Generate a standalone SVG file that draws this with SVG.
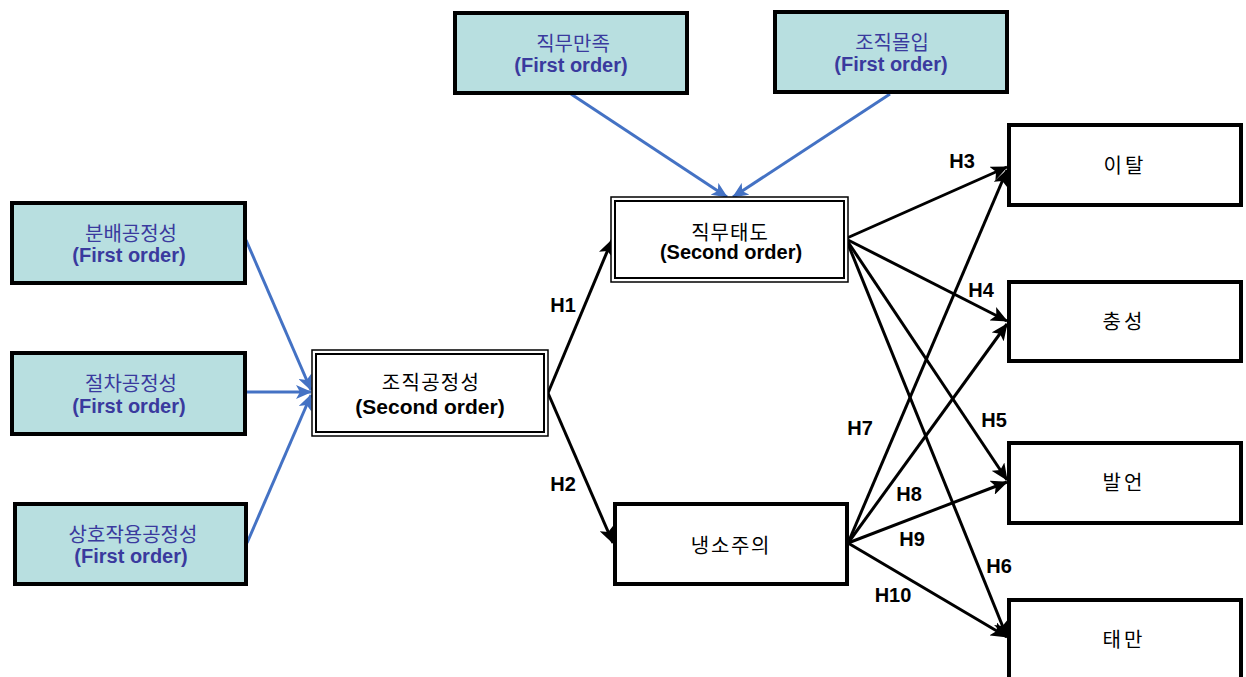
<svg xmlns="http://www.w3.org/2000/svg" width="1246" height="677" viewBox="0 0 1246 677">
<defs>
<style>
.fo rect{fill:#b8dfe0;stroke:#000;stroke-width:4}
text{text-anchor:middle}
.fo text{fill:#3a3a9e}
.ko{font-size:20px;font-family:"Noto Sans CJK KR","Liberation Sans",sans-serif}
.en{font-size:20px;font-weight:bold;font-family:"Liberation Sans",sans-serif}
.so .outer{fill:#fff;stroke:#000;stroke-width:1.5}
.so .inner{fill:none;stroke:#000;stroke-width:2}
.so text,.pl text{fill:#000}
.pl rect{fill:#fff;stroke:#000;stroke-width:4}
.blue{stroke:#4472c4;stroke-width:3;fill:none;marker-end:url(#ab)}
.blk{stroke:#000;stroke-width:3;fill:none;marker-end:url(#ak)}
.lbl{font-family:"Liberation Sans",sans-serif;font-weight:bold;font-size:20px;fill:#000}
</style>
<marker id="ab" markerUnits="userSpaceOnUse" markerWidth="16" markerHeight="14" refX="15" refY="7" orient="auto"><path d="M0,0 L16,7 L0,14 L4,7 z" fill="#4472c4"/></marker>
<marker id="ak" markerUnits="userSpaceOnUse" markerWidth="17" markerHeight="15" refX="16" refY="7.5" orient="auto"><path d="M0,0 L17,7.5 L0,15 L4,7.5 z" fill="#000"/></marker>
</defs>
<rect width="1246" height="677" fill="#fff"/>
<g id="connectors">
<line class="blue" x1="246" y1="240" x2="311" y2="390"/>
<line class="blue" x1="246" y1="392" x2="311" y2="392"/>
<line class="blue" x1="247" y1="543" x2="311" y2="395"/>
<line class="blue" x1="571" y1="94" x2="727" y2="197"/>
<line class="blue" x1="890" y1="94" x2="733" y2="197"/>
<line class="blk" x1="548" y1="393" x2="612" y2="240"/>
<line class="blk" x1="548" y1="393" x2="613" y2="543"/>
<line class="blk" x1="847" y1="238" x2="1007" y2="167"/>
<line class="blk" x1="848" y1="240" x2="1007" y2="321"/>
<line class="blk" x1="848" y1="242" x2="1007" y2="480"/>
<line class="blk" x1="848" y1="244" x2="1007" y2="637"/>
<line class="blk" x1="848" y1="543" x2="1007" y2="170"/>
<line class="blk" x1="848" y1="543" x2="1007" y2="324"/>
<line class="blk" x1="848" y1="543" x2="1007" y2="482"/>
<line class="blk" x1="848" y1="543" x2="1007" y2="637"/>
<text class="lbl" x="563" y="312">H1</text>
<text class="lbl" x="563" y="491">H2</text>
<text class="lbl" x="962" y="168">H3</text>
<text class="lbl" x="981" y="297">H4</text>
<text class="lbl" x="994" y="427">H5</text>
<text class="lbl" x="999" y="573">H6</text>
<text class="lbl" x="860" y="435">H7</text>
<text class="lbl" x="909" y="501">H8</text>
<text class="lbl" x="912" y="546">H9</text>
<text class="lbl" x="893" y="602">H10</text>
</g>
<g id="n-bunbae" class="fo"><rect x="12" y="203" width="233" height="80"/><text class="ko" x="131" y="241">분배공정성</text><text class="en" x="129" y="262">(First order)</text></g>
<g id="n-jeolcha" class="fo"><rect x="12" y="353" width="233" height="81"/><text class="ko" x="131" y="391">절차공정성</text><text class="en" x="129" y="413">(First order)</text></g>
<g id="n-sangho" class="fo"><rect x="15" y="504" width="231" height="80"/><text class="ko" x="133" y="542">상호작용공정성</text><text class="en" x="131" y="563">(First order)</text></g>
<g id="n-jikmu-manjok" class="fo"><rect x="455" y="13" width="232" height="80"/><text class="ko" x="573" y="51">직무만족</text><text class="en" x="571" y="72">(First order)</text></g>
<g id="n-jojik-molip" class="fo"><rect x="775" y="12" width="232" height="80"/><text class="ko" x="892" y="50">조직몰입</text><text class="en" x="891" y="71">(First order)</text></g>
<g id="n-jojik-gongjeong" class="so"><rect class="outer" x="312" y="350" width="236" height="86"/><rect class="inner" x="316" y="354" width="228" height="78"/><text class="ko" x="431" y="390" letter-spacing="1.3">조직공정성</text><text class="en" x="430" y="414" style="font-size:21px">(Second order)</text></g>
<g id="n-jikmu-taedo" class="so"><rect class="outer" x="611" y="197" width="237" height="85"/><rect class="inner" x="615" y="201" width="229" height="77"/><text class="ko" x="730" y="240" letter-spacing="1">직무태도</text><text class="en" x="731" y="259">(Second order)</text></g>
<g id="n-naengso" class="pl"><rect x="615" y="504" width="232" height="80"/><text class="ko" x="731" y="553" letter-spacing="1.7">냉소주의</text></g>
<g id="n-ital" class="pl"><rect x="1009" y="125" width="232" height="80"/><text class="ko" x="1125" y="173" letter-spacing="3">이탈</text></g>
<g id="n-chungseong" class="pl"><rect x="1009" y="282" width="232" height="79"/><text class="ko" x="1124" y="329" letter-spacing="3">충성</text></g>
<g id="n-bareon" class="pl"><rect x="1009" y="443" width="232" height="80"/><text class="ko" x="1124" y="490" letter-spacing="3">발언</text></g>
<g id="n-taeman" class="pl"><rect x="1009" y="600" width="232" height="90"/><text class="ko" x="1124" y="647" letter-spacing="3">태만</text></g>
</svg>
